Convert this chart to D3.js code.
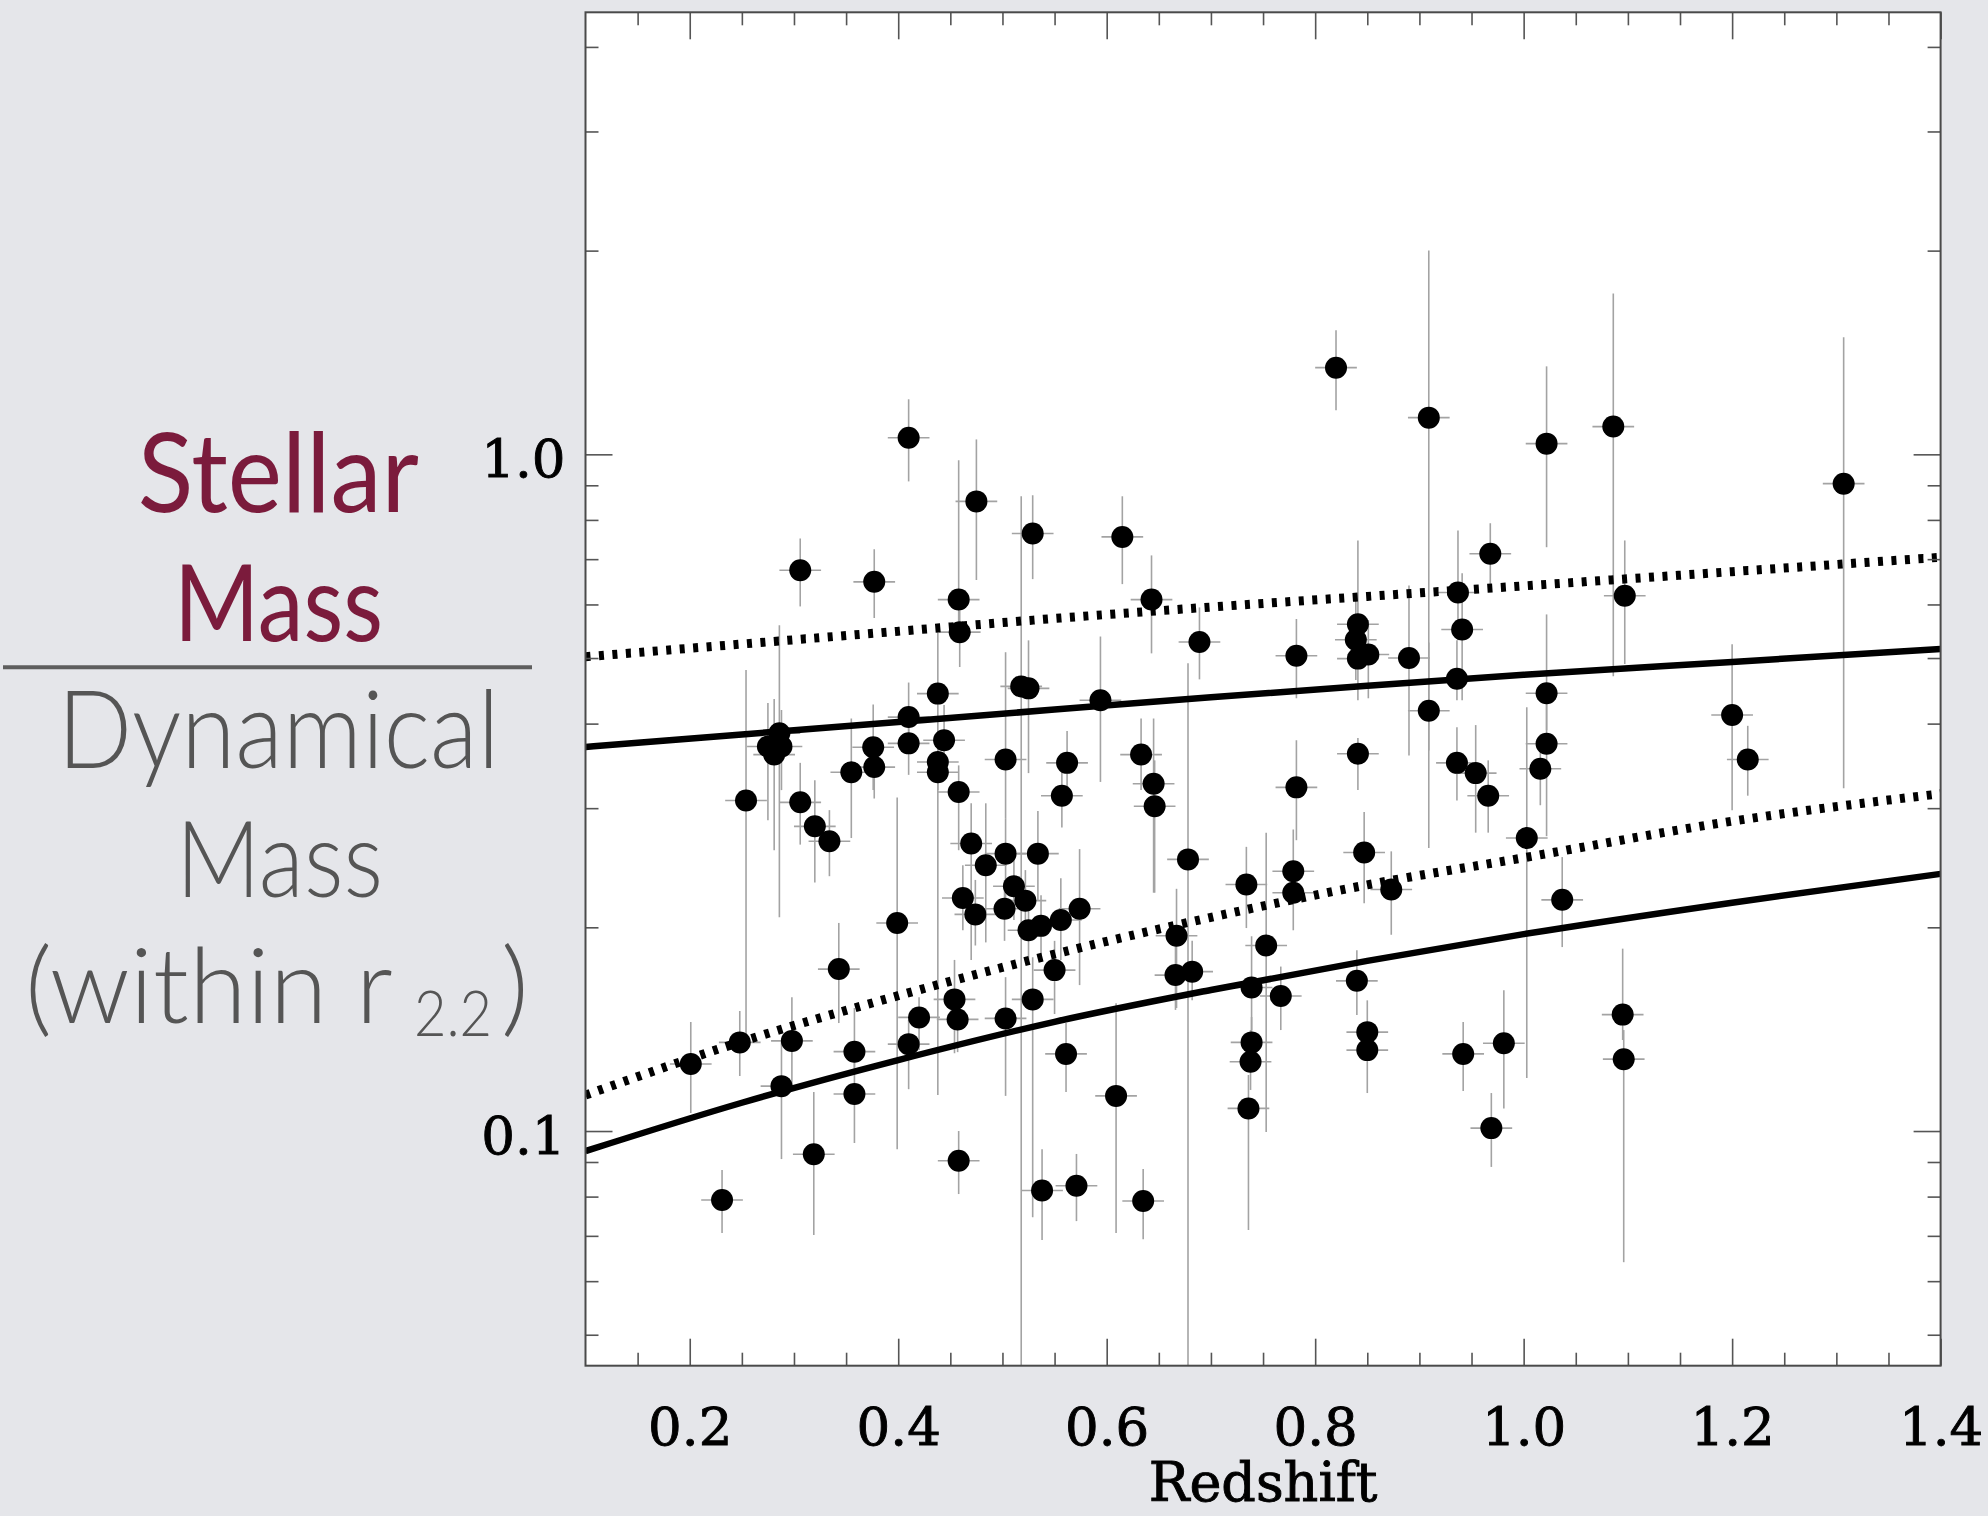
<!DOCTYPE html>
<html>
<head>
<meta charset="utf-8">
<script src="https://cdn.jsdelivr.net/npm/d3@7"></script>
<style>
  html, body { margin: 0; padding: 0; background: #e5e6ea; }
  svg { display: block; }
</style>
</head>
<body>
<svg id="chart" width="1988" height="1516"></svg>
<script>
// Galaxy sample: redshift, stellar-to-dynamical mass ratio and its 1-sigma range
const redshift = [
  0.410,0.475,0.529,0.306,0.377,0.458,0.459,0.438,0.410,0.518,
  0.525,0.286,0.275,0.288,0.281,0.254,0.376,0.377,0.355,0.410,
  0.444,0.438,0.438,0.458,0.503,0.306,0.320,0.334,0.470,0.484,
  0.503,0.534,0.511,0.522,0.462,0.474,0.502,0.525,0.537,0.399,
  0.343,0.248,0.201,0.298,0.288,0.358,0.358,0.420,0.410,0.454,
  0.457,0.503,0.529,0.319,0.231,0.458,0.538,0.820,0.909,0.615,
  0.643,0.689,0.594,0.782,0.841,0.839,0.841,0.851,0.890,0.909,
  0.937,0.941,0.936,0.968,0.562,0.633,0.645,0.646,0.841,0.936,
  0.954,0.966,0.782,0.557,0.678,0.734,0.779,0.779,0.847,0.873,
  0.574,0.556,0.550,0.667,0.666,0.682,0.753,0.739,0.767,0.840,
  0.561,0.609,0.739,0.738,0.736,0.850,0.850,0.942,0.969,0.571,
  0.635,1.022,1.086,1.307,1.097,1.022,1.022,1.016,1.003,1.037,
  1.200,1.215,1.095,1.096,0.981
];
const massRatio = [
  1.058,0.852,0.764,0.674,0.648,0.610,0.546,0.443,0.409,0.454,
  0.451,0.387,0.370,0.370,0.360,0.308,0.369,0.345,0.339,0.374,
  0.378,0.351,0.339,0.317,0.354,0.306,0.282,0.268,0.266,0.247,
  0.257,0.257,0.230,0.219,0.221,0.209,0.213,0.198,0.201,0.203,
  0.1735,0.1352,0.1256,0.1359,0.1165,0.1310,0.1134,0.1472,0.1344,0.1565,
  0.1462,0.1467,0.1565,0.0924,0.0791,0.0904,0.0817,1.343,1.133,0.755,
  0.610,0.528,0.433,0.504,0.561,0.532,0.499,0.506,0.500,0.418,
  0.625,0.551,0.466,0.713,0.350,0.360,0.326,0.302,0.361,0.350,
  0.338,0.313,0.322,0.313,0.252,0.2314,0.242,0.225,0.258,0.2275,
  0.213,0.205,0.1729,0.1943,0.170,0.172,0.188,0.163,0.1583,0.1667,
  0.130,0.1127,0.1352,0.1266,0.108,0.140,0.1317,0.130,0.101,0.0830,
  0.0788,1.037,1.099,0.905,0.618,0.4436,0.3736,0.343,0.271,0.2196,
  0.412,0.354,0.1486,0.1277,0.1348
];
const ratioLow = [
  0.912,0.652,0.654,0.596,0.573,0.559,0.485,0.357,0.362,0.030,
  0.338,0.207,0.288,0.319,0.260,0.138,0.319,0.310,0.271,0.336,
  0.341,0.319,0.113,0.260,0.290,0.265,0.233,0.238,0.179,0.190,
  0.219,0.219,0.205,0.195,0.198,0.188,0.191,0.179,0.182,0.094,
  0.1444,0.1206,0.1063,0.1150,0.0909,0.1231,0.0960,0.1317,0.1153,0.1303,
  0.1308,0.1127,0.0746,0.0702,0.0707,0.0807,0.0690,1.162,0.262,0.643,
  0.508,0.465,0.328,0.436,0.496,0.464,0.433,0.436,0.359,0.365,
  0.531,0.433,0.433,0.630,0.313,0.319,0.225,0.225,0.319,0.308,
  0.276,0.276,0.269,0.281,0.030,0.1995,0.219,0.198,0.217,0.195,
  0.1643,0.179,0.1489,0.152,0.151,0.156,0.0997,0.141,0.141,0.1484,
  0.1142,0.0707,0.1231,0.115,0.0714,0.1295,0.1138,0.1146,0.0885,0.0736,
  0.0692,0.729,0.470,0.321,0.490,0.391,0.2727,0.303,0.1198,0.187,
  0.298,0.313,0.1363,0.0640,0.108
];
const ratioHigh = [
  1.206,1.052,0.870,0.751,0.724,0.980,0.588,0.550,0.460,0.867,
  0.531,0.559,0.429,0.419,0.435,0.480,0.427,0.378,0.407,0.405,
  0.426,0.385,0.372,0.347,0.510,0.350,0.330,0.298,0.305,0.305,
  0.290,0.297,0.260,0.243,0.247,0.235,0.235,0.219,0.223,0.311,
  0.203,0.1504,0.1449,0.1577,0.1363,0.1520,0.1317,0.1577,0.1459,0.179,
  0.1615,0.1688,0.1807,0.1142,0.0876,0.100,0.0940,1.525,2.001,0.867,
  0.709,0.594,0.538,0.571,0.746,0.609,0.569,0.569,0.640,0.527,
  0.772,0.667,0.531,0.791,0.390,0.407,0.407,0.353,0.381,0.395,
  0.398,0.353,0.378,0.353,0.491,0.263,0.279,0.251,0.296,0.259,
  0.261,0.2364,0.191,0.228,0.191,0.191,0.276,0.194,0.175,0.185,
  0.1444,0.1545,0.1474,0.141,0.121,0.156,0.1434,0.1449,0.1138,0.0925,
  0.0879,1.349,1.729,1.489,0.746,0.580,0.433,0.378,0.423,0.254,
  0.524,0.397,0.186,0.141,0.1615
];
const redshiftErr = 0.02;

// Model tracks sampled in redshift
const modelZ      = [0.1, 0.25, 0.4, 0.55, 0.7, 0.85, 1.0, 1.2, 1.4];
const upperSolid  = [0.3695,0.3855,0.4022,0.4196,0.4375,0.4549,0.4722,0.4934,0.5155];
const upperDotted = [0.5022,0.5244,0.5477,0.5721,0.5947,0.6167,0.6391,0.6709,0.7045];
const lowerSolid  = [0.0934,0.1101,0.1273,0.1450,0.1616,0.1784,0.1954,0.2175,0.2399];
const lowerDotted = [0.1130,0.1356,0.1585,0.1826,0.2069,0.2311,0.2534,0.2870,0.3151];

// Axis ticks
const xMajorTicks = [0.2, 0.4, 0.6, 0.8, 1.0, 1.2, 1.4];
const xMinorTicks = [0.15,0.25,0.3,0.35,0.45,0.5,0.55,0.65,0.7,0.75,0.85,0.9,0.95,1.05,1.1,1.15,1.25,1.3,1.35];
const yMajorTicks = [0.1, 1.0];
const yMinorTicks = [0.05,0.06,0.07,0.08,0.09,0.2,0.3,0.4,0.5,0.6,0.7,0.8,0.9,2,3,4];

const svg = d3.select("#chart");

const panel = { left: 585.5, right: 1940.6, top: 12.3, bottom: 1365.7 };
const x = d3.scaleLinear().domain([0.1, 1.4]).range([panel.left, panel.right]);
const y = d3.scaleLog().domain([0.045, 4.5]).range([panel.bottom, panel.top]);
const panelW = panel.right - panel.left, panelH = panel.bottom - panel.top;

// Plot panel
svg.append("rect")
  .attr("x", panel.left).attr("y", panel.top)
  .attr("width", panelW).attr("height", panelH)
  .attr("fill", "#ffffff");

svg.append("clipPath").attr("id", "panel-clip")
  .append("rect")
  .attr("x", panel.left).attr("y", panel.top)
  .attr("width", panelW).attr("height", panelH);

const plot = svg.append("g").attr("clip-path", "url(#panel-clip)");

const points = redshift.map((z, i) => ({
  z, v: massRatio[i], lo: ratioLow[i], hi: ratioHigh[i]
}));

// Error bars
const bars = plot.append("g")
  .attr("stroke", "#a3a3a3")
  .attr("stroke-width", 1.6);
bars.selectAll("line.v").data(points).join("line")
  .attr("class", "v")
  .attr("x1", d => x(d.z)).attr("x2", d => x(d.z))
  .attr("y1", d => y(d.hi)).attr("y2", d => y(d.lo));
bars.selectAll("line.h").data(points).join("line")
  .attr("class", "h")
  .attr("x1", d => x(d.z - redshiftErr)).attr("x2", d => x(d.z + redshiftErr))
  .attr("y1", d => y(d.v)).attr("y2", d => y(d.v));

// Model curves
const curve = vals => d3.line()
  .x((d, i) => x(modelZ[i]))
  .y(d => y(d))
  .curve(d3.curveMonotoneX)(vals);

[
  { vals: upperSolid,  dash: null },
  { vals: lowerSolid,  dash: null },
  { vals: upperDotted, dash: "5 8.5" },
  { vals: lowerDotted, dash: "5 8.5" }
].forEach(c => {
  plot.append("path")
    .attr("d", curve(c.vals))
    .attr("fill", "none")
    .attr("stroke", "#000")
    .attr("stroke-width", c.dash ? 9 : 6.5)
    .attr("stroke-dasharray", c.dash)
    .attr("stroke-linecap", "butt");
});

// Galaxies
plot.append("g").selectAll("circle").data(points).join("circle")
  .attr("cx", d => x(d.z))
  .attr("cy", d => y(d.v))
  .attr("r", 11)
  .attr("fill", "#000");

// Axes: ticks on all four sides pointing inwards
const tickFont = "'DejaVu Serif', serif";
function styleAxis(g) {
  g.select(".domain").remove();
  g.selectAll(".tick line").attr("stroke", "#555").attr("stroke-width", 1.6);
  g.selectAll("text")
    .attr("font-family", tickFont)
    .attr("font-size", 53)
    .attr("fill", "#000")
    .attr("stroke", "#000")
    .attr("stroke-width", 0.9);
}

svg.append("g").attr("transform", `translate(0,${panel.bottom})`)
  .call(d3.axisBottom(x).tickValues(xMinorTicks).tickSize(-13).tickFormat(""))
  .call(styleAxis);
svg.append("g").attr("transform", `translate(0,${panel.bottom})`)
  .call(d3.axisBottom(x).tickValues(xMajorTicks).tickSize(-27).tickFormat(d3.format(".1f")))
  .call(styleAxis)
  .call(g => g.selectAll("text").attr("y", 79).attr("dy", null));

svg.append("g").attr("transform", `translate(0,${panel.top})`)
  .call(d3.axisTop(x).tickValues(xMinorTicks).tickSize(-13).tickFormat(""))
  .call(styleAxis);
svg.append("g").attr("transform", `translate(0,${panel.top})`)
  .call(d3.axisTop(x).tickValues(xMajorTicks).tickSize(-27).tickFormat(""))
  .call(styleAxis);

svg.append("g").attr("transform", `translate(${panel.left},0)`)
  .call(d3.axisLeft(y).tickValues(yMinorTicks).tickSize(-13).tickFormat(""))
  .call(styleAxis);
svg.append("g").attr("transform", `translate(${panel.left},0)`)
  .call(d3.axisLeft(y).tickValues(yMajorTicks).tickSize(-27).tickFormat(d3.format(".1f")))
  .call(styleAxis)
  .call(g => g.selectAll("text").attr("x", -20).attr("dy", "0.42em"));

svg.append("g").attr("transform", `translate(${panel.right},0)`)
  .call(d3.axisRight(y).tickValues(yMinorTicks).tickSize(-13).tickFormat(""))
  .call(styleAxis);
svg.append("g").attr("transform", `translate(${panel.right},0)`)
  .call(d3.axisRight(y).tickValues(yMajorTicks).tickSize(-27).tickFormat(""))
  .call(styleAxis);

// Panel frame
svg.append("rect")
  .attr("x", panel.left).attr("y", panel.top)
  .attr("width", panelW).attr("height", panelH)
  .attr("fill", "none")
  .attr("stroke", "#4a4a4a")
  .attr("stroke-width", 2);

// X axis title
svg.append("text")
  .attr("x", (panel.left + panel.right) / 2)
  .attr("y", 1501)
  .attr("text-anchor", "middle")
  .attr("font-family", tickFont)
  .attr("font-size", 54)
  .attr("fill", "#000")
  .attr("stroke", "#000")
  .attr("stroke-width", 0.9)
  .text("Redshift");

// Y axis title written as a fraction
const maroon = "#7b1b3c", grey = "#555555";
const titleFont = "Lato, 'Open Sans', sans-serif";
const title = svg.append("g").attr("font-family", titleFont);

function word(txt, x0, base, size, len, color, weight) {
  return title.append("text")
    .attr("x", x0).attr("y", base)
    .attr("font-size", size)
    .attr("font-weight", weight)
    .attr("fill", color)
    .attr("textLength", len)
    .attr("lengthAdjust", "spacingAndGlyphs")
    .text(txt);
}
word("Stellar", 137.8, 511.5, 111, 281, maroon, 400);
word("Mass", 174, 640.8, 107, 209, maroon, 400);
title.append("line")
  .attr("x1", 3).attr("x2", 532)
  .attr("y1", 667.3).attr("y2", 667.3)
  .attr("stroke", "#5e5e5e").attr("stroke-width", 4);
word("Dynamical", 57.4, 768.3, 108, 442, grey, 300);
word("Mass", 176, 896.7, 106, 207, grey, 300);
word("(within r", 24.9, 1023, 104, 368, grey, 300);
word("2.2", 414, 1035.6, 64, 78, grey, 300);
word(")", 501, 1023, 104, 28, grey, 300);
</script>
</body>
</html>
